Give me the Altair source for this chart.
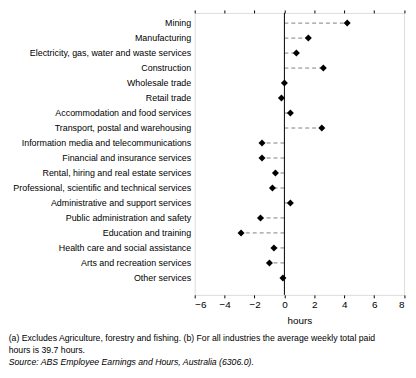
import altair as alt
import pandas as pd

industries = [
    "Mining",
    "Manufacturing",
    "Electricity, gas, water and waste services",
    "Construction",
    "Wholesale trade",
    "Retail trade",
    "Accommodation and food services",
    "Transport, postal and warehousing",
    "Information media and telecommunications",
    "Financial and insurance services",
    "Rental, hiring and real estate services",
    "Professional, scientific and technical services",
    "Administrative and support services",
    "Public administration and safety",
    "Education and training",
    "Health care and social assistance",
    "Arts and recreation services",
    "Other services",
]
difference = [4.2, 1.6, 0.8, 2.6, 0.0, -0.2, 0.4, 2.5, -1.5, -1.5,
              -0.6, -0.8, 0.4, -1.6, -2.9, -0.7, -1.0, -0.1]
x_ticks = [-6, -4, -2, 0, 2, 4, 6, 8]
footnotes = [
    "(a) Excludes Agriculture, forestry and fishing. (b) For all industries the average weekly total paid",
    "hours is 39.7 hours.",
]
source_note = "Source: ABS Employee Earnings and Hours, Australia (6306.0)."

df = pd.DataFrame({"industry": industries, "diff": difference, "zero": [0.0] * len(industries)})

FONT = "Liberation Sans"

x_scale = alt.Scale(domain=[-6, 8], nice=False, zero=False)
y_scale = alt.Scale(domain=industries, padding=0.814, align=0.361)

y_enc = alt.Y("industry:N", scale=y_scale, sort=industries,
              axis=alt.Axis(title=None, domain=False, ticks=False, labelPadding=4,
                            labelFontSize=9, labelFont=FONT, labelColor="black",
                            labelLimit=0))

dashes = alt.Chart(df).mark_rule(color="#808080", strokeDash=[4, 3], strokeWidth=1).encode(
    x=alt.X("zero:Q", scale=x_scale,
            axis=alt.Axis(title="hours", values=x_ticks, orient="bottom", domain=False,
                          tickSize=3, tickColor="black", labelPadding=2, labelFontSize=10,
                          labelFont=FONT, labelColor="black", titleFont=FONT,
                          titleFontSize=10, titleFontWeight="normal", titleColor="black",
                          titlePadding=6, grid=False)),
    x2="diff:Q",
    y=y_enc,
)

zero_line = alt.Chart(pd.DataFrame({"v": [0]})).mark_rule(color="black", strokeWidth=1).encode(
    x=alt.X("v:Q", scale=x_scale,
            axis=alt.Axis(title=None, values=x_ticks, orient="top", domain=False,
                          tickSize=3, tickColor="black", labels=False, grid=False)),
)

points = alt.Chart(df).mark_point(shape="diamond", filled=True, color="black", size=50, opacity=1).encode(
    x=alt.X("diff:Q", scale=x_scale, axis=None),
    y=y_enc,
)

note1 = alt.Chart(pd.DataFrame({"t": [footnotes[0]]})).mark_text(
    align="left", baseline="middle", font=FONT, fontSize=8.8, color="black"
).encode(text="t:N", x=alt.value(-188), y=alt.value(329))
note2 = alt.Chart(pd.DataFrame({"t": [footnotes[1]]})).mark_text(
    align="left", baseline="middle", font=FONT, fontSize=8.8, color="black"
).encode(text="t:N", x=alt.value(-188), y=alt.value(341))
note3 = alt.Chart(pd.DataFrame({"t": [source_note]})).mark_text(
    align="left", baseline="middle", font=FONT, fontSize=8.8, fontStyle="italic", color="black"
).encode(text="t:N", x=alt.value(-188), y=alt.value(353))

chart = alt.layer(dashes, zero_line, points, note1, note2, note3).resolve_axis(
    x="independent"
).properties(
    width=211.6,
    height=285,
    autosize=alt.AutoSizeParams(type="none"),
    padding={"left": 188.7, "top": 3, "right": 4, "bottom": 78},
).configure_view(stroke="black", strokeWidth=1).configure(background="white")

chart.save("out.html", embed_options={"renderer": "svg", "actions": False})
